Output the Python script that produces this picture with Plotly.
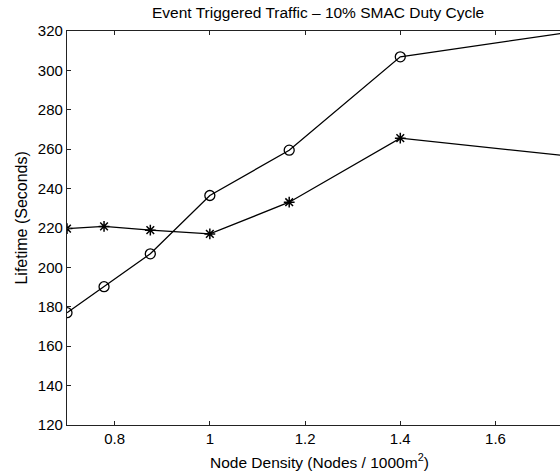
import plotly.graph_objects as go

# Node densities (nodes / 1000 m^2): 7 nodes over 10..4 thousand m^2
density = [0.7, 0.7778, 0.875, 1.0, 1.1667, 1.4, 1.75]

# Network lifetime in seconds for the two protocols
lifetime_circle = [177.0, 190.2, 206.9, 236.5, 259.5, 306.9, 319.2]
lifetime_star = [219.7, 220.8, 218.9, 217.0, 233.1, 265.6, 256.6]

x_ticks = [0.8, 1.0, 1.2, 1.4, 1.6]
x_tick_text = ["0.8", "1", "1.2", "1.4", "1.6"]
y_ticks = [120, 140, 160, 180, 200, 220, 240, 260, 280, 300, 320]

W, H = 560, 476
L, T, B = 66.5, 31, 51
px_per_unit = 476.6
x_max = 0.7 + (W - L) / px_per_unit

FONT = "Liberation Sans, Arial, sans-serif"
FS = 15
FS_TITLE = 15.5

fig = go.Figure()
fig.add_trace(go.Scatter(
    x=density, y=lifetime_circle, mode="lines+markers",
    line=dict(color="black", width=1.3),
    marker=dict(symbol="circle-open", size=10, color="black", line=dict(width=1.3)),
    cliponaxis=True, showlegend=False,
))
fig.add_trace(go.Scatter(
    x=density, y=lifetime_star, mode="lines+markers",
    line=dict(color="black", width=1.3),
    marker=dict(symbol="asterisk-open", size=9, color="black", line=dict(width=1.5, color="black")),
    cliponaxis=True, showlegend=False,
))
# invisible trace on the top axis so its ticks are drawn
fig.add_trace(go.Scatter(x=[0.7], y=[120], xaxis="x2", mode="markers",
                         marker=dict(opacity=0), showlegend=False, hoverinfo="skip"))

axis_common = dict(
    showgrid=False, zeroline=False, showline=True, linecolor="#222",
    linewidth=1.2, ticks="inside", ticklen=4, tickcolor="#222", tickwidth=1,
)
tick_font = dict(family=FONT, size=FS, color="black")

fig.update_layout(
    width=W, height=H,
    margin=dict(l=L, r=0, t=T, b=B, pad=0),
    paper_bgcolor="white", plot_bgcolor="white",
    xaxis=dict(range=[0.7, x_max], tickvals=x_ticks, ticktext=x_tick_text,
               tickfont=tick_font, **axis_common),
    xaxis2=dict(range=[0.7, x_max], overlaying="x", side="top", tickvals=x_ticks,
                showticklabels=False, **axis_common),
    yaxis=dict(range=[120, 320], tickvals=y_ticks, tickfont=tick_font, **axis_common),
    annotations=[
        dict(text="Event Triggered Traffic \u2013 10% SMAC Duty Cycle", xref="paper", yref="paper",
             x=(317.5 - L) / (W - L), y=1 + (T - 13) / (H - T - B), xanchor="center", yanchor="middle",
             showarrow=False, font=dict(family=FONT, size=FS_TITLE, color="black")),
        dict(text="Node Density (Nodes / 1000m<sup>2</sup>)", xref="paper", yref="paper",
             x=(319 - L) / (W - L), y=-(461 - (H - B)) / (H - T - B), xanchor="center", yanchor="middle",
             showarrow=False, font=dict(family=FONT, size=FS_TITLE, color="black")),
        dict(text="Lifetime (Seconds)", xref="paper", yref="paper", textangle=-90,
             x=-(L - 20) / (W - L), y=1 - (218 - T) / (H - T - B), xanchor="center", yanchor="middle",
             showarrow=False, font=dict(family=FONT, size=16, color="black")),
    ],
)

fig.write_html("out.html")
